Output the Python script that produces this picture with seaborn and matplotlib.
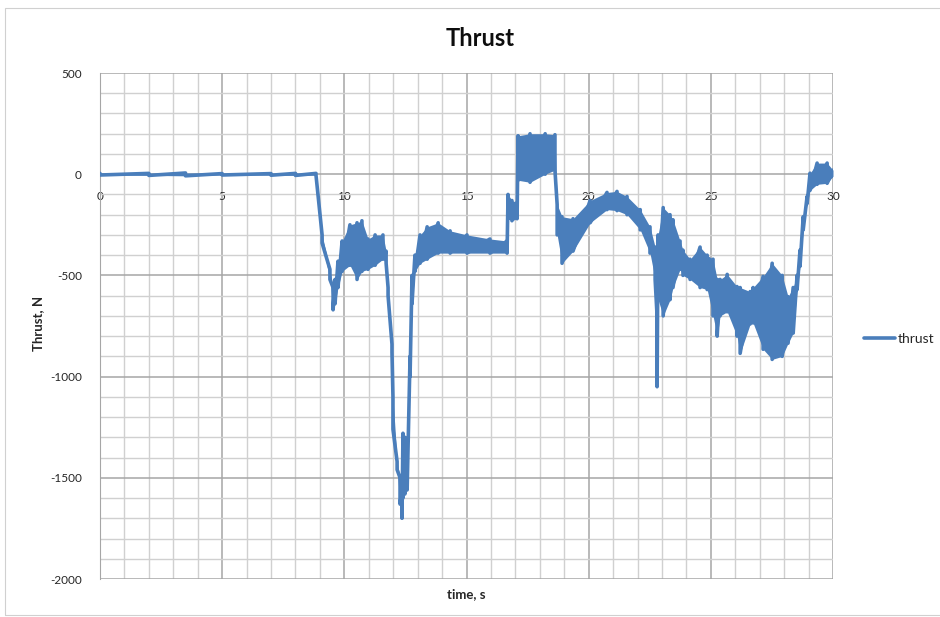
import numpy as np
import pandas as pd
import matplotlib
matplotlib.use('Agg')
import matplotlib.pyplot as plt
import seaborn as sns
from matplotlib.patches import Rectangle
from matplotlib.ticker import MultipleLocator

# envelope of the noisy thrust trace: time (s), low (N), high (N)
time_s = [0.0, 2.0, 3.5, 5.0, 7.0, 8.0, 8.84, 9.09, 9.41, 9.54, 9.62, 9.74, 9.91,
          10.23, 10.52, 10.72, 10.97, 11.26, 11.58, 11.71, 11.79, 11.95, 11.99,
          12.16, 12.28, 12.36, 12.40, 12.48, 12.57, 12.69, 12.77, 12.89, 13.10,
          13.39, 13.84, 14.33, 15.02, 15.96, 16.66, 16.70, 16.86, 17.07, 17.11,
          17.60, 18.22, 18.62, 18.71, 18.91, 19.36, 20.06, 20.75, 21.16, 21.57,
          22.11, 22.51, 22.72, 22.80, 22.84, 23.05, 23.33, 23.45, 23.74, 23.86,
          24.15, 24.56, 24.85, 25.09, 25.26, 25.38, 25.67, 26.07, 26.20, 26.61,
          26.73, 27.14, 27.51, 27.92, 28.16, 28.37, 28.53, 28.65, 28.78, 28.94,
          29.06, 29.35, 29.76, 30.0]
thrust_lo = [-4, -6, -8, -4, -5, -6, -5, -340, -520, -670, -640, -560, -480,
             -450, -520, -480, -470, -450, -420, -440, -600, -880, -1260,
             -1460, -1630, -1700, -1600, -1580, -1560, -1000, -640, -480, -440,
             -420, -390, -390, -390, -390, -390, -220, -230, -220, -30,
             -40, 0, 20, -300, -440, -380, -240, -175, -180, -200,
             -275, -390, -520, -1050, -620, -700, -620, -560, -470, -500,
             -520, -560, -570, -700, -800, -700, -680, -800, -885, -740,
             -735, -865, -915, -900, -835, -785, -570, -455, -275, -145,
             -80, -50, -45, -10]
thrust_hi = [4, 4, 6, 3, 3, 4, 4, -300, -470, -560, -520, -430, -330,
             -250, -240, -230, -320, -300, -300, -380, -560, -840, -1100,
             -1420, -1500, -1560, -1280, -1300, -1350, -900, -500, -400, -300,
             -260, -240, -280, -300, -320, -330, -100, -130, -140, 190,
             200, 200, 195, -150, -210, -220, -130, -90, -85, -110,
             -175, -260, -360, -700, -300, -165, -200, -225, -330, -375,
             -420, -360, -400, -420, -520, -520, -495, -555, -560, -580,
             -560, -505, -440, -500, -605, -560, -500, -375, -210, -110,
             5, 55, 55, 20]

x_ticks = [0, 5, 10, 15, 20, 25, 30]
y_ticks = [500, 0, -500, -1000, -1500, -2000]

blue = '#4a7ebb'

sns.set_style('white')
plt.rcParams['font.family'] = ['Lato', 'DejaVu Sans']
plt.rcParams['axes.unicode_minus'] = False

# zigzag between the envelope edges, like the dense raw samples
zz_t = np.repeat(time_s, 2)
zz_y = np.ravel(np.column_stack([thrust_hi, thrust_lo]))
df = pd.DataFrame({'time': zz_t, 'thrust': zz_y})

fig = plt.figure(figsize=(9.4, 6.17), dpi=100)
ax = fig.add_axes([100 / 940, 1 - 579 / 617, 733 / 940, 506 / 617])

ax.fill_between(time_s, thrust_lo, thrust_hi, color=blue, lw=0, zorder=3)
sns.lineplot(data=df, x='time', y='thrust', estimator=None, sort=False,
             color=blue, lw=2.6, ax=ax, label='thrust', zorder=4)

ax.set_xlim(0, 30)
ax.set_ylim(-2000, 500)
ax.set_xticks(x_ticks)
ax.set_yticks(y_ticks)
ax.xaxis.set_minor_locator(MultipleLocator(1))
ax.yaxis.set_minor_locator(MultipleLocator(100))
ax.grid(which='major', color='#a6a6a6', lw=1.1, zorder=1)
ax.grid(which='minor', color='#d0d0d0', lw=1.0, zorder=0)
ax.set_axisbelow(True)

# x axis crosses at zero like the spreadsheet chart
ax.spines['bottom'].set_position(('data', 0))
ax.spines['bottom'].set_visible(False)
for s in ['top', 'right']:
    ax.spines[s].set_visible(False)
ax.spines['left'].set_color('#a6a6a6')
ax.tick_params(axis='both', which='both', length=0, labelsize=8.5, colors='#262626')
ax.tick_params(axis='x', pad=12)
ax.tick_params(axis='y', pad=13)

ax.set_xlabel('')
ax.set_ylabel('')
fig.text(466 / 940, 1 - 594 / 617, 'time, s', ha='center', va='center',
         fontsize=9.5, fontweight='bold', color='#262626')
fig.text(38 / 940, 1 - 323 / 617, 'Thrust, N', ha='center', va='center',
         rotation=90, fontsize=9.5, fontweight='bold', color='#262626')
fig.text(480 / 940, 1 - 38 / 617, 'Thrust', ha='center', va='center',
         fontsize=17, fontweight='bold', color='#0d0d0d')

ax.legend(loc='center left', bbox_to_anchor=(864 / 940, 1 - 339 / 617),
          bbox_transform=fig.transFigure, frameon=False, fontsize=10,
          handlelength=2.2, handletextpad=0.2, borderpad=0, borderaxespad=0)

fig.patches.append(Rectangle((5 / 940, 2 / 617), 1.0, 1 - 10 / 617,
                             transform=fig.transFigure, fill=False,
                             edgecolor='#d0d0d0', lw=0.8))

fig.savefig('out.png', dpi=100)
